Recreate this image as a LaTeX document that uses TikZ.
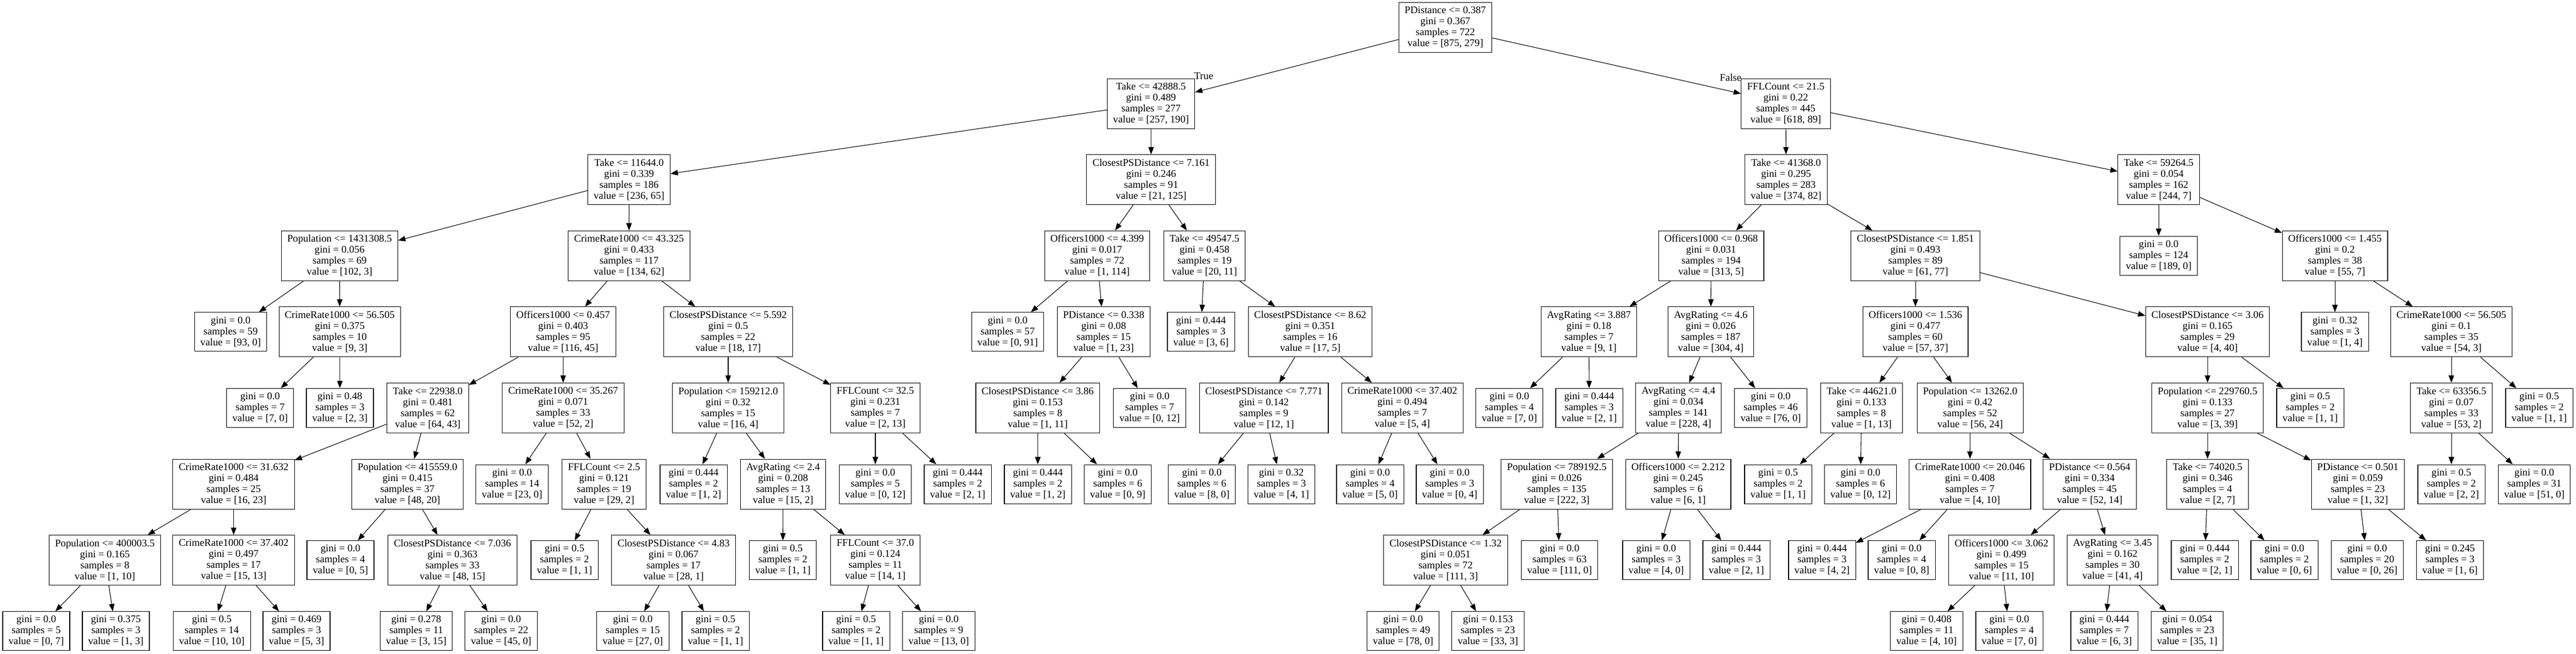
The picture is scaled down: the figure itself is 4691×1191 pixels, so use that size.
\documentclass[tikz,border=0pt]{standalone}
\usepackage{fontspec}
\setmainfont{Liberation Serif}
\usetikzlibrary{arrows.meta}
\newcommand{\treeN}[7]{\node[inode] (#1) at (#2,#3) {#4\\gini = #5\\samples = #6\\value = [#7]};}
\newcommand{\treeL}[6]{\node[leafbox] (#1) at (#2,#3) {gini = #4\\samples = #5\\value = [#6]};}
\begin{document}
\begin{tikzpicture}[x=0.75pt,y=-0.75pt,
  every node/.style={font=\fontsize{14}{15}\selectfont},
  inode/.style={draw=black, line width=0.8pt, align=center, inner xsep=8pt, inner ysep=0pt, minimum height=68.25pt},
  leafbox/.style={inode, minimum height=53.25pt},
  arr/.style={draw=black, line width=0.8pt, -{Triangle[length=10pt,width=7.5pt]}},
  lbl/.style={inner sep=0pt}]
\fill[white] (0,0) rectangle (4691,1191);
\useasboundingbox (0,0) rectangle (4691,1191);
% Level 0
\treeN{r}{2632}{50}{PDistance <= 0.387}{0.367}{722}{875, 279}
% Level 1
\treeN{a}{2096}{188.6}{Take <= 42888.5}{0.489}{277}{257, 190}
\treeN{b}{3252}{188.6}{FFLCount <= 21.5}{0.22}{445}{618, 89}
% Level 2
\treeN{aa}{1145.5}{327.2}{Take <= 11644.0}{0.339}{186}{236, 65}
\treeN{ab}{2096.3}{327.2}{ClosestPSDistance <= 7.161}{0.246}{91}{21, 125}
\treeN{ba}{3252.5}{327.2}{Take <= 41368.0}{0.295}{283}{374, 82}
\treeN{bb}{3931}{327.2}{Take <= 59264.5}{0.054}{162}{244, 7}
% Level 3
\treeN{aaa}{618.4}{465.8}{Population <= 1431308.5}{0.056}{69}{102, 3}
\treeN{aab}{1145.5}{465.8}{CrimeRate1000 <= 43.325}{0.433}{117}{134, 62}
\treeN{aba}{1998}{465.8}{Officers1000 <= 4.399}{0.017}{72}{1, 114}
\treeN{abb}{2193.5}{465.8}{Take <= 49547.5}{0.458}{19}{20, 11}
\treeN{baa}{3116}{465.8}{Officers1000 <= 0.968}{0.031}{194}{313, 5}
\treeN{bab}{3488}{465.8}{ClosestPSDistance <= 1.851}{0.493}{89}{61, 77}
\treeL{bba}{3931}{465.8}{0.0}{124}{189, 0}
\treeN{bbb}{4252}{465.8}{Officers1000 <= 1.455}{0.2}{38}{55, 7}
% Level 4
\treeL{aaaa}{420}{604.4}{0.0}{59}{93, 0}
\treeN{aaab}{618.7}{604.4}{CrimeRate1000 <= 56.505}{0.375}{10}{9, 3}
\treeN{aaba}{1025.5}{604.4}{Officers1000 <= 0.457}{0.403}{95}{116, 45}
\treeN{aabb}{1326}{604.4}{ClosestPSDistance <= 5.592}{0.5}{22}{18, 17}
\treeL{abaa}{1835}{604.4}{0.0}{57}{0, 91}
\treeN{abab}{2009.8}{604.4}{PDistance <= 0.338}{0.08}{15}{1, 23}
\treeL{abba}{2187}{604.4}{0.444}{3}{3, 6}
\treeN{abbb}{2386}{604.4}{ClosestPSDistance <= 8.62}{0.351}{16}{17, 5}
\treeN{baaa}{2893.5}{604.4}{AvgRating <= 3.887}{0.18}{7}{9, 1}
\treeN{baab}{3115.4}{604.4}{AvgRating <= 4.6}{0.026}{187}{304, 4}
\treeN{baba}{3488}{604.4}{Officers1000 <= 1.536}{0.477}{60}{57, 37}
\treeN{babb}{4020}{604.4}{ClosestPSDistance <= 3.06}{0.165}{29}{4, 40}
\treeL{bbba}{4252}{604.4}{0.32}{3}{1, 4}
\treeN{bbbb}{4464}{604.4}{CrimeRate1000 <= 56.505}{0.1}{35}{54, 3}
% Level 5
\treeL{aaaba}{473.7}{743}{0.0}{7}{7, 0}
\treeL{aaabb}{619}{743}{0.48}{3}{2, 3}
\treeN{aabaa}{779}{743}{Take <= 22938.0}{0.481}{62}{64, 43}
\treeN{aabab}{1025.5}{743}{CrimeRate1000 <= 35.267}{0.071}{33}{52, 2}
\treeN{aabba}{1326}{743}{Population <= 159212.0}{0.32}{15}{16, 4}
\treeN{aabbb}{1594}{743}{FFLCount <= 32.5}{0.231}{7}{2, 13}
\treeN{ababa}{1889.7}{743}{ClosestPSDistance <= 3.86}{0.153}{8}{1, 11}
\treeL{ababb}{2093.6}{743}{0.0}{7}{0, 12}
\treeN{abbba}{2301.6}{743}{ClosestPSDistance <= 7.771}{0.142}{9}{12, 1}
\treeN{abbbb}{2553.7}{743}{CrimeRate1000 <= 37.402}{0.494}{7}{5, 4}
\treeL{baaaa}{2748.6}{743}{0.0}{4}{7, 0}
\treeL{baaab}{2894}{743}{0.444}{3}{2, 1}
\treeN{baaba}{3056.5}{743}{AvgRating <= 4.4}{0.034}{141}{228, 4}
\treeL{baabb}{3224.5}{743}{0.0}{46}{76, 0}
\treeN{babaa}{3389.8}{743}{Take <= 44621.0}{0.133}{8}{1, 13}
\treeN{babab}{3587.7}{743}{Population <= 13262.0}{0.42}{52}{56, 24}
\treeN{babba}{4020}{743}{Population <= 229760.5}{0.133}{27}{3, 39}
\treeL{babbb}{4207}{743}{0.5}{2}{1, 1}
\treeN{bbbba}{4464}{743}{Take <= 63356.5}{0.07}{33}{53, 2}
\treeL{bbbbb}{4624}{743}{0.5}{2}{1, 1}
% Level 6
\treeN{aabaaa}{425.5}{881.6}{CrimeRate1000 <= 31.632}{0.484}{25}{16, 23}
\treeN{aabaab}{742}{881.6}{Population <= 415559.0}{0.415}{37}{48, 20}
\treeL{aababa}{932.5}{881.6}{0.0}{14}{23, 0}
\treeN{aababb}{1100}{881.6}{FFLCount <= 2.5}{0.121}{19}{29, 2}
\treeL{aabbaa}{1263}{881.6}{0.444}{2}{1, 2}
\treeN{aabbab}{1426}{881.6}{AvgRating <= 2.4}{0.208}{13}{15, 2}
\treeL{aabbba}{1594}{881.6}{0.0}{5}{0, 12}
\treeL{aabbbb}{1744}{881.6}{0.444}{2}{2, 1}
\treeL{ababaa}{1890}{881.6}{0.444}{2}{1, 2}
\treeL{ababab}{2035.5}{881.6}{0.0}{6}{0, 9}
\treeL{abbbaa}{2188.6}{881.6}{0.0}{6}{8, 0}
\treeL{abbbab}{2333.4}{881.6}{0.32}{3}{4, 1}
\treeL{abbbba}{2495}{881.6}{0.0}{4}{5, 0}
\treeL{abbbbb}{2640}{881.6}{0.0}{3}{0, 4}
\treeN{baabaa}{2835}{881.6}{Population <= 789192.5}{0.026}{135}{222, 3}
\treeN{baabab}{3056}{881.6}{Officers1000 <= 2.212}{0.245}{6}{6, 1}
\treeL{babaaa}{3238}{881.6}{0.5}{2}{1, 1}
\treeL{babaab}{3388}{881.6}{0.0}{6}{0, 12}
\treeN{bababa}{3587.3}{881.6}{CrimeRate1000 <= 20.046}{0.408}{7}{4, 10}
\treeN{bababb}{3805.4}{881.6}{PDistance <= 0.564}{0.334}{45}{52, 14}
\treeN{babbaa}{4020}{881.6}{Take <= 74020.5}{0.346}{4}{2, 7}
\treeN{babbab}{4293.7}{881.6}{PDistance <= 0.501}{0.059}{23}{1, 32}
\treeL{bbbbaa}{4464}{881.6}{0.5}{2}{2, 2}
\treeL{bbbbab}{4615}{881.6}{0.0}{31}{51, 0}
% Level 7
\treeN{aabaaaa}{191}{1020.2}{Population <= 400003.5}{0.165}{8}{1, 10}
\treeN{aabaaab}{425.5}{1020.2}{CrimeRate1000 <= 37.402}{0.497}{17}{15, 13}
\treeL{aabaaba}{620}{1020.2}{0.0}{4}{0, 5}
\treeN{aabaabb}{824}{1020.2}{ClosestPSDistance <= 7.036}{0.363}{33}{48, 15}
\treeL{aababba}{1028}{1020.2}{0.5}{2}{1, 1}
\treeN{aababbb}{1226.6}{1020.2}{ClosestPSDistance <= 4.83}{0.067}{17}{28, 1}
\treeL{aabbaba}{1425.6}{1020.2}{0.5}{2}{1, 1}
\treeN{aabbabb}{1594}{1020.2}{FFLCount <= 37.0}{0.124}{11}{14, 1}
\treeN{baabaaa}{2632.5}{1020.2}{ClosestPSDistance <= 1.32}{0.051}{72}{111, 3}
\treeL{baabaab}{2840}{1020.2}{0.0}{63}{111, 0}
\treeL{baababa}{3016}{1020.2}{0.0}{3}{4, 0}
\treeL{baababb}{3162}{1020.2}{0.444}{3}{2, 1}
\treeL{bababaa}{3318}{1020.2}{0.444}{3}{4, 2}
\treeL{bababab}{3463}{1020.2}{0.0}{4}{0, 8}
\treeN{bababba}{3644.8}{1020.2}{Officers1000 <= 3.062}{0.499}{15}{11, 10}
\treeN{bababbb}{3847}{1020.2}{AvgRating <= 3.45}{0.162}{30}{41, 4}
\treeL{babbaaa}{4015}{1020.2}{0.444}{2}{2, 1}
\treeL{babbaab}{4160}{1020.2}{0.0}{2}{0, 6}
\treeL{babbaba}{4310.7}{1020.2}{0.0}{20}{0, 26}
\treeL{babbabb}{4461.5}{1020.2}{0.245}{3}{1, 6}
% Level 8
\treeL{p1}{66}{1149.2}{0.0}{5}{0, 7}
\treeL{p2}{211}{1149.2}{0.375}{3}{1, 3}
\treeL{p3}{385.7}{1149.2}{0.5}{14}{10, 10}
\treeL{p4}{540}{1149.2}{0.469}{3}{5, 3}
\treeL{p5}{758}{1149.2}{0.278}{11}{3, 15}
\treeL{p6}{912.6}{1149.2}{0.0}{22}{45, 0}
\treeL{p7}{1152.4}{1149.2}{0.0}{15}{27, 0}
\treeL{p8}{1303}{1149.2}{0.5}{2}{1, 1}
\treeL{p9}{1559}{1149.2}{0.5}{2}{1, 1}
\treeL{p10}{1709.5}{1149.2}{0.0}{9}{13, 0}
\treeL{p11}{2555}{1149.2}{0.0}{49}{78, 0}
\treeL{p12}{2709.5}{1149.2}{0.153}{23}{33, 3}
\treeL{p13}{3508.4}{1149.2}{0.408}{11}{4, 10}
\treeL{p14}{3659}{1149.2}{0.0}{4}{7, 0}
\treeL{p15}{3832}{1149.2}{0.444}{7}{6, 3}
\treeL{p16}{3983}{1149.2}{0.054}{23}{35, 1}
% Edge labels
\node[lbl] (tlabel) at (2192,138) {True};
\node[lbl] (flabel) at (3151.5,141) {False};
% Edges
\foreach \p/\c in {r/a, r/b,
  a/aa, a/ab, b/ba, b/bb,
  aa/aaa, aa/aab, ab/aba, ab/abb, ba/baa, ba/bab, bb/bba, bb/bbb,
  aaa/aaaa, aaa/aaab, aab/aaba, aab/aabb, aba/abaa, aba/abab, abb/abba, abb/abbb,
  baa/baaa, baa/baab, bab/baba, bab/babb, bbb/bbba, bbb/bbbb,
  aaab/aaaba, aaab/aaabb, aaba/aabaa, aaba/aabab, aabb/aabba, aabb/aabbb,
  abab/ababa, abab/ababb, abbb/abbba, abbb/abbbb,
  baaa/baaaa, baaa/baaab, baab/baaba, baab/baabb,
  baba/babaa, baba/babab, babb/babba, babb/babbb, bbbb/bbbba, bbbb/bbbbb,
  aabaa/aabaaa, aabaa/aabaab, aabab/aababa, aabab/aababb,
  aabba/aabbaa, aabba/aabbab, aabbb/aabbba, aabbb/aabbbb,
  ababa/ababaa, ababa/ababab, abbba/abbbaa, abbba/abbbab, abbbb/abbbba, abbbb/abbbbb,
  baaba/baabaa, baaba/baabab, babaa/babaaa, babaa/babaab,
  babab/bababa, babab/bababb, babba/babbaa, babba/babbab, bbbba/bbbbaa, bbbba/bbbbab,
  aabaaa/aabaaaa, aabaaa/aabaaab, aabaab/aabaaba, aabaab/aabaabb,
  aababb/aababba, aababb/aababbb, aabbab/aabbaba, aabbab/aabbabb,
  baabaa/baabaaa, baabaa/baabaab, baabab/baababa, baabab/baababb,
  bababa/bababaa, bababa/bababab, bababb/bababba, bababb/bababbb,
  babbaa/babbaaa, babbaa/babbaab, babbab/babbaba, babbab/babbabb,
  aabaaaa/p1, aabaaaa/p2, aabaaab/p3, aabaaab/p4, aabaabb/p5, aabaabb/p6,
  aababbb/p7, aababbb/p8, aabbabb/p9, aabbabb/p10, baabaaa/p11, baabaaa/p12,
  bababba/p13, bababba/p14, bababbb/p15, bababbb/p16}
  {\draw[arr] (\p) -- (\c);}
\end{tikzpicture}
\end{document}
